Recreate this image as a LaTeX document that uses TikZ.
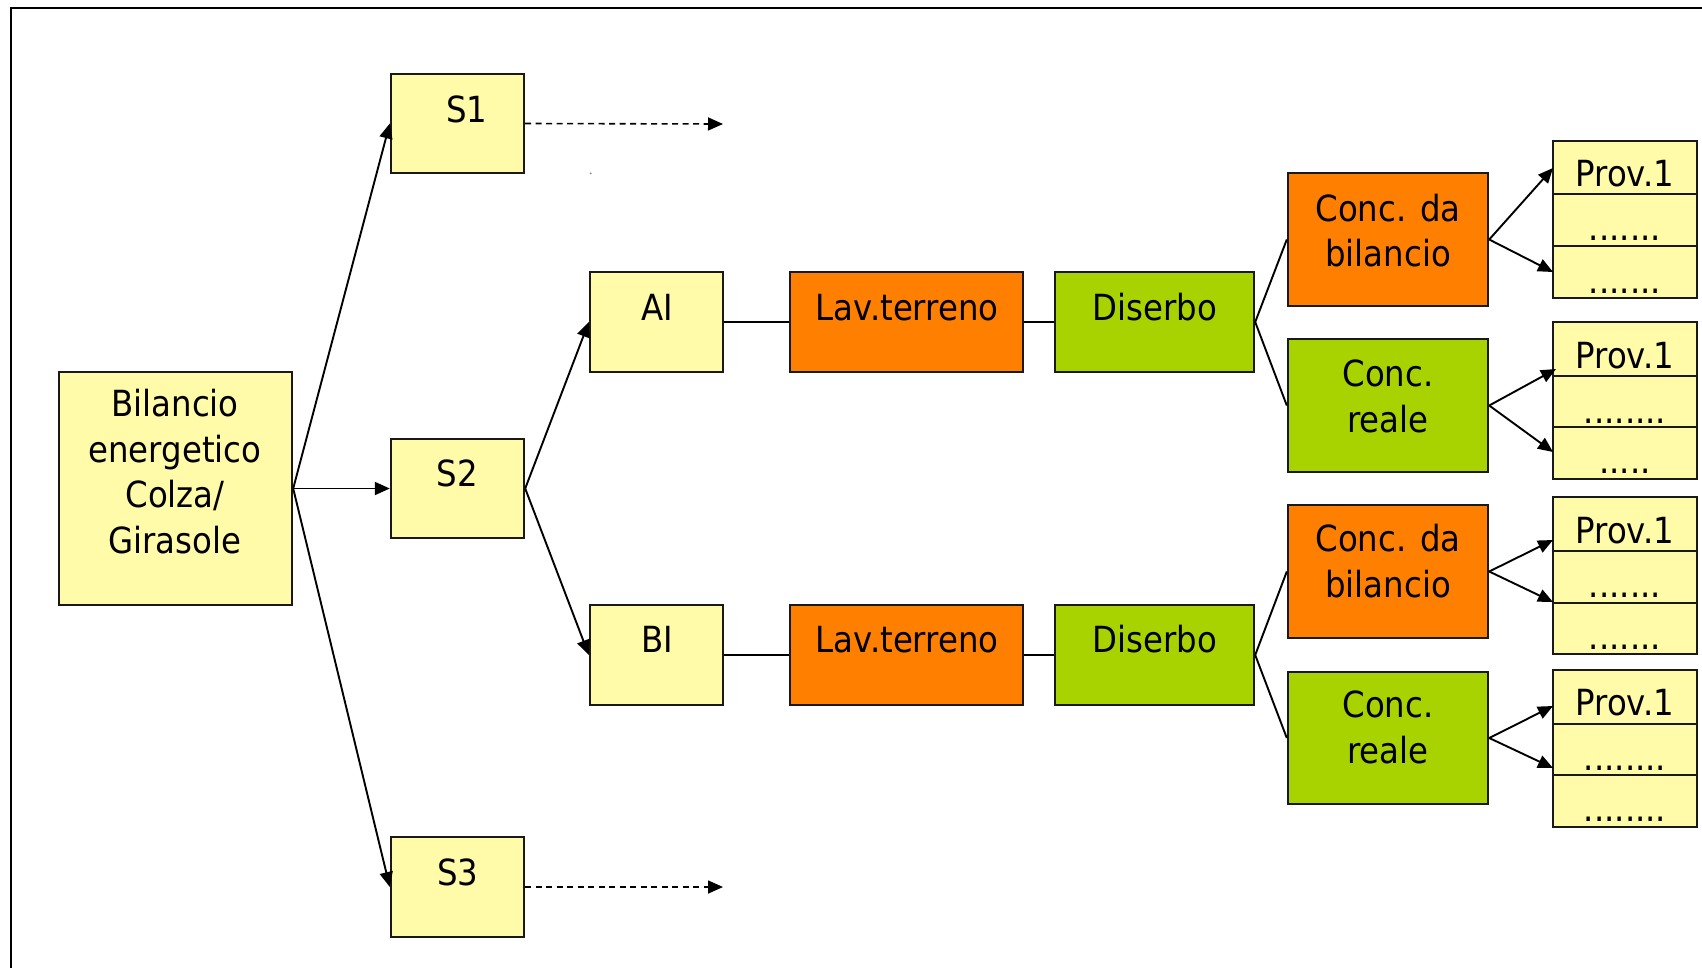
\documentclass[tikz,border=0pt]{standalone}
\usepackage{fontspec}
\setmainfont{DejaVu Sans}[FakeStretch=0.9]
\usetikzlibrary{fit,arrows.meta}
\definecolor{yel}{RGB}{255,251,168}
\definecolor{org}{RGB}{255,127,0}
\definecolor{grn}{RGB}{168,210,0}
\begin{document}
\begin{tikzpicture}[x=1pt,y=-1pt,
  box/.style={draw=black!90, line width=2.4pt, inner sep=0pt},
  yb/.style={box, fill=yel},
  ob/.style={box, fill=org},
  gb/.style={box, fill=grn},
  txt/.style={font=\fontsize{36}{45.5}\selectfont, inner sep=0pt, anchor=base, align=center},
  con/.style={line width=1.9pt},
  arr/.style={con, -{Triangle[length=15pt,width=13pt]}},
  darr/.style={line width=1.6pt, dash pattern=on 6pt off 4.5pt, -{Triangle[length=15pt,width=13pt]}}]
\useasboundingbox (0,0) rectangle (1702,967);
\clip (0,0) rectangle (1702,967);
\fill[white] (0,0) rectangle (1702,967);
% frame
\draw[line width=2pt] (11,1000) -- (11,8) -- (1750,8);
% boxes
\node[yb, fit={(59,372) (292,605)}] (Bil) {};
\node[yb, fit={(391,74) (524,173)}] (S1) {};
\node[yb, fit={(391,439) (524,538)}] (S2) {};
\node[yb, fit={(391,837) (524,937)}] (S3) {};
\node[yb, fit={(590,272) (723,372)}] (AI) {};
\node[yb, fit={(590,605) (723,705)}] (BI) {};
\node[ob, fit={(790,272) (1023,372)}] (LT1) {};
\node[gb, fit={(1055,272) (1254,372)}] (D1) {};
\node[ob, fit={(790,605) (1023,705)}] (LT2) {};
\node[gb, fit={(1055,605) (1254,705)}] (D2) {};
\node[ob, fit={(1288,173) (1488,306)}] (CB1) {};
\node[gb, fit={(1288,339) (1488,472)}] (CR1) {};
\node[ob, fit={(1288,505) (1488,638)}] (CB2) {};
\node[gb, fit={(1288,672) (1488,804)}] (CR2) {};
% Prov boxes
\node[yb, fit={(1553,141) (1697,194)}] (P1a) {};
\node[yb, fit={(1553,194) (1697,246)}] (P1b) {};
\node[yb, fit={(1553,246) (1697,298)}] (P1c) {};
\node[yb, fit={(1553,322) (1697,376)}] (P2a) {};
\node[yb, fit={(1553,376) (1697,427)}] (P2b) {};
\node[yb, fit={(1553,427) (1697,479)}] (P2c) {};
\node[yb, fit={(1553,497) (1697,551)}] (P3a) {};
\node[yb, fit={(1553,551) (1697,603)}] (P3b) {};
\node[yb, fit={(1553,603) (1697,654)}] (P3c) {};
\node[yb, fit={(1553,670) (1697,724)}] (P4a) {};
\node[yb, fit={(1553,724) (1697,775)}] (P4b) {};
\node[yb, fit={(1553,775) (1697,827)}] (P4c) {};
% texts (base = baseline of last line)
\node[txt] (tBil) at (175,553) {Bilancio\\energetico\\Colza/\\Girasole};
\node[txt] (tS1) at (467,122) {S1};
\node[txt] (tS2) at (457.5,486) {S2};
\node[txt] (tS3) at (458,885) {S3};
\node[txt] (tAI) at (657,320) {AI};
\node[txt] (tBI) at (657,652) {BI};
\node[txt] (tLT1) at (907,320) {Lav.terreno};
\node[txt] (tD1) at (1155,320) {Diserbo};
\node[txt] (tLT2) at (907,652) {Lav.terreno};
\node[txt] (tD2) at (1155,652) {Diserbo};
\node[txt] (tCB1) at (1388,266.5) {Conc. da\\bilancio};
\node[txt] (tCR1) at (1388,432) {Conc.\\reale};
\node[txt] (tCB2) at (1388,597) {Conc. da\\bilancio};
\node[txt] (tCR2) at (1388,763) {Conc.\\reale};
\node[txt] (tP1a) at (1625,186) {Prov.1};
\node[txt] (tP1b) at (1625,240) {.......};
\node[txt] (tP1c) at (1625,293) {.......};
\node[txt] (tP2a) at (1625,368) {Prov.1};
\node[txt] (tP2b) at (1625,423) {........};
\node[txt] (tP2c) at (1625,473) {.....};
\node[txt] (tP3a) at (1625,543) {Prov.1};
\node[txt] (tP3b) at (1625,597) {.......};
\node[txt] (tP3c) at (1625,649) {.......};
\node[txt] (tP4a) at (1625,715) {Prov.1};
\node[txt] (tP4b) at (1625,770) {........};
\node[txt] (tP4c) at (1625,821) {........};
% free ends
\coordinate (e1) at (723,124);
\coordinate (e3) at (723,887);
\coordinate (c1a) at (1553,168);
\coordinate (c1b) at (1553,272);
\coordinate (c2a) at (1556,369);
\coordinate (c2b) at (1553,452);
\coordinate (c3a) at (1553,540);
\coordinate (c3b) at (1553,602);
\coordinate (c4a) at (1553,706);
\coordinate (c4b) at (1553,768);
% connectors
\draw[arr] (Bil.east) -- (S1.west);
\draw[arr] (Bil.east) -- (S2.west);
\draw[arr] (Bil.east) -- (S3.west);
\draw[darr] (S1.east) -- (e1);
\draw[darr] (S3.east) -- (e3);
\draw[arr] (S2.east) -- (AI.west);
\draw[arr] (S2.east) -- (BI.west);
\draw[con] (AI.east) -- (LT1.west);
\draw[con] (LT1.east) -- (D1.west);
\draw[con] (BI.east) -- (LT2.west);
\draw[con] (LT2.east) -- (D2.west);
\draw[con] (D1.east) -- (CB1.west);
\draw[con] (D1.east) -- (CR1.west);
\draw[con] (D2.east) -- (CB2.west);
\draw[con] (D2.east) -- (CR2.west);
\draw[arr] (CB1.east) -- (c1a);
\draw[arr] (CB1.east) -- (c1b);
\draw[arr] (CR1.east) -- (c2a);
\draw[arr] (CR1.east) -- (c2b);
\draw[arr] (CB2.east) -- (c3a);
\draw[arr] (CB2.east) -- (c3b);
\draw[arr] (CR2.east) -- (c4a);
\draw[arr] (CR2.east) -- (c4b);
\fill[gray] (590.7,173.3) circle (1);
\end{tikzpicture}
\end{document}
